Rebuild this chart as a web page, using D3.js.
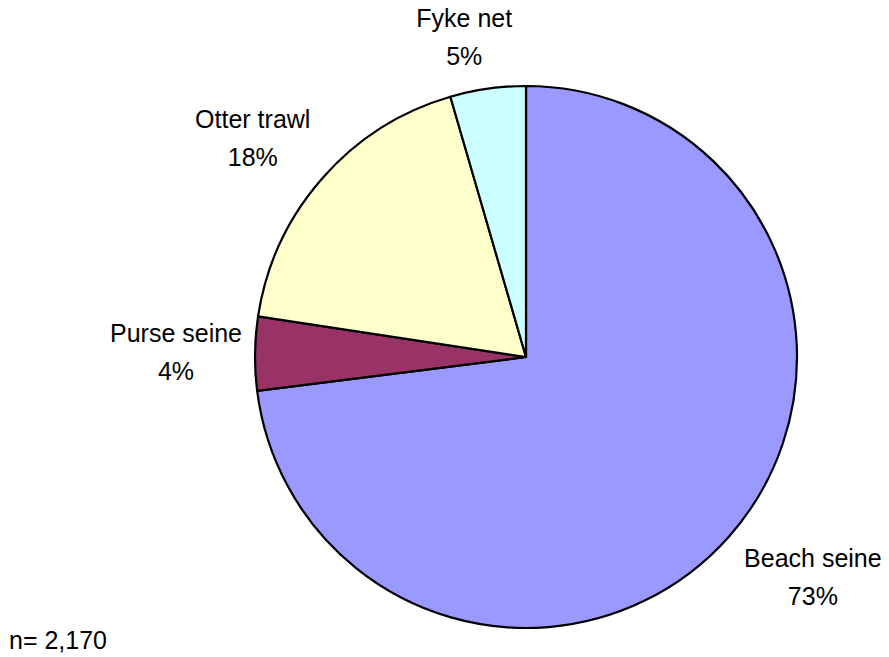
<!DOCTYPE html>
<html>
<head>
<meta charset="utf-8">
<script src="https://cdn.jsdelivr.net/npm/d3@7"></script>
<style>
  html, body { margin: 0; padding: 0; background: #ffffff; }
  svg { display: block; }
  text { font-family: "Liberation Sans", Arial, sans-serif; fill: #000; }
</style>
</head>
<body>
<svg id="chart" width="889" height="657"></svg>
<script>
// ---- data ----
const categories = ["Beach seine", "Purse seine", "Otter trawl", "Fyke net"];
const shares = [73.0, 4.4, 18.1, 4.5];          // percent of catch
const percentLabels = ["73%", "4%", "18%", "5%"];
const colors = ["#9999FF", "#993366", "#FFFFCC", "#CCFFFF"];
const sampleNote = "n= 2,170";

// ---- layout ----
const cx = 526, cy = 357, r = 271;
const labelGap = 20;                                   // distance of label box from the rim
const labelNudge = [[17, 9], [7, -1], [-11, -9], [-14, -4]];
const fontSize = 25, lineStep = 38, capH = 18;

const svg = d3.select("#chart");
const g = svg.append("g").attr("transform", `translate(${cx},${cy})`);

const pie = d3.pie().sort(null).value(d => d.v);
const data = categories.map((c, i) => ({ name: c, v: shares[i], pct: percentLabels[i], color: colors[i], i }));
const arcs = pie(data);
const arc = d3.arc().innerRadius(0).outerRadius(r);

g.selectAll("path.slice")
  .data(arcs)
  .enter().append("path")
  .attr("class", "slice")
  .attr("d", arc)
  .attr("fill", d => d.data.color)
  .attr("stroke", "#000")
  .attr("stroke-width", 2.2)
  .attr("stroke-linejoin", "round");

// labels
arcs.forEach(d => {
  const mid = (d.startAngle + d.endAngle) / 2;
  const dx = Math.sin(mid), dy = -Math.cos(mid);
  const t = g.append("text")
    .attr("text-anchor", "middle")
    .style("font-size", fontSize + "px");
  t.append("tspan").attr("x", 0).attr("y", 0).text(d.data.name);
  t.append("tspan").attr("x", 0).attr("y", lineStep).text(d.data.pct);
  const bb = t.node().getBBox();
  const w = bb.width, h = lineStep + capH;
  const nudge = labelNudge[d.data.i];
  const px = dx * (r + labelGap) + dx * w / 2 + nudge[0];
  const py = dy * (r + labelGap) + dy * h / 2 + nudge[1];
  const b1 = py - h / 2 + capH;                         // first baseline
  t.selectAll("tspan").attr("x", px);
  t.select("tspan:nth-child(1)").attr("y", b1);
  t.select("tspan:nth-child(2)").attr("y", b1 + lineStep);
});

svg.append("text")
  .attr("x", 9)
  .attr("y", 649)
  .style("font-size", fontSize + "px")
  .text(sampleNote);
</script>
</body>
</html>
